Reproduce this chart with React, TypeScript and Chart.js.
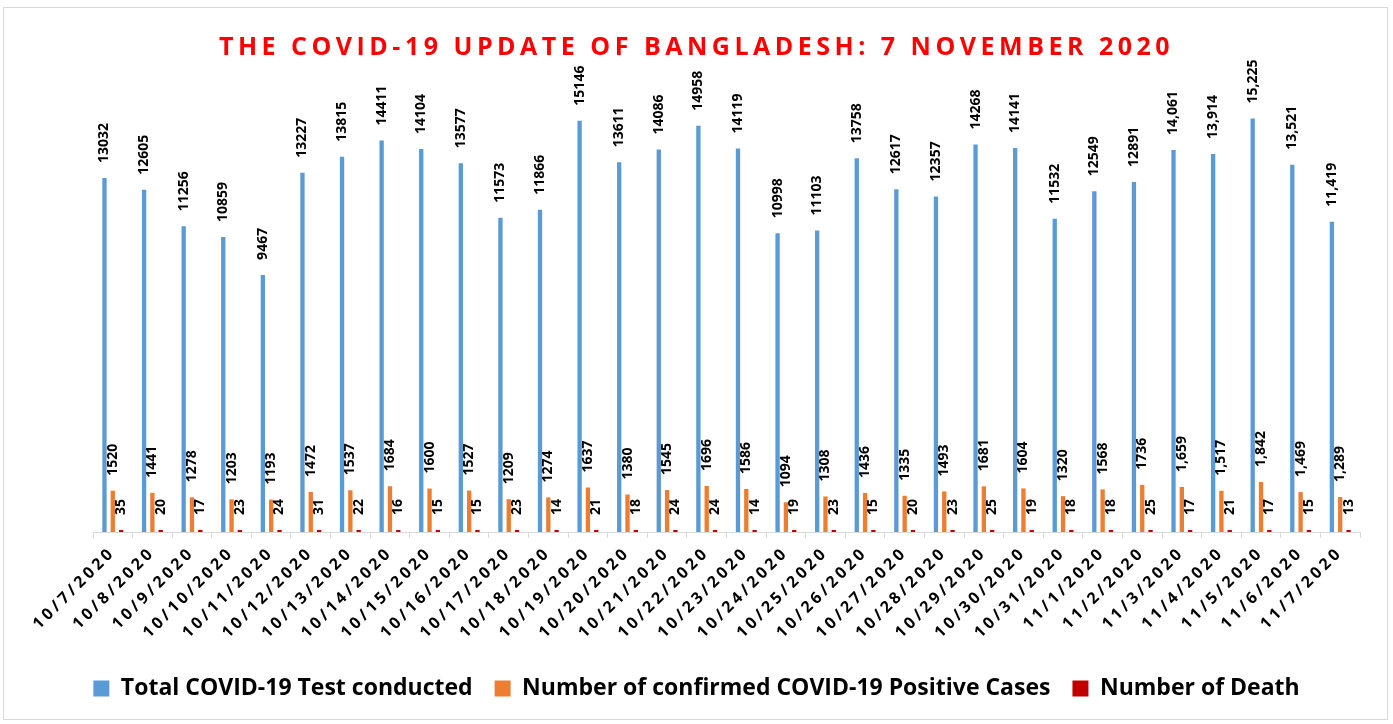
import React, { useEffect, useRef } from "react";
import { Chart, registerables } from "chart.js";

Chart.register(...registerables);

const titleText = "THE COVID-19 UPDATE OF BANGLADESH: 7 NOVEMBER 2020";

const dates = [
  "10/7/2020", "10/8/2020", "10/9/2020", "10/10/2020", "10/11/2020", "10/12/2020",
  "10/13/2020", "10/14/2020", "10/15/2020", "10/16/2020", "10/17/2020", "10/18/2020",
  "10/19/2020", "10/20/2020", "10/21/2020", "10/22/2020", "10/23/2020", "10/24/2020",
  "10/25/2020", "10/26/2020", "10/27/2020", "10/28/2020", "10/29/2020", "10/30/2020",
  "10/31/2020", "11/1/2020", "11/2/2020", "11/3/2020", "11/4/2020", "11/5/2020",
  "11/6/2020", "11/7/2020",
];

const tests = [
  13032, 12605, 11256, 10859, 9467, 13227, 13815, 14411, 14104, 13577, 11573, 11866,
  15146, 13611, 14086, 14958, 14119, 10998, 11103, 13758, 12617, 12357, 14268, 14141,
  11532, 12549, 12891, 14061, 13914, 15225, 13521, 11419,
];

const positives = [
  1520, 1441, 1278, 1203, 1193, 1472, 1537, 1684, 1600, 1527, 1209, 1274,
  1637, 1380, 1545, 1696, 1586, 1094, 1308, 1436, 1335, 1493, 1681, 1604,
  1320, 1568, 1736, 1659, 1517, 1842, 1469, 1289,
];

const deaths = [
  35, 20, 17, 23, 24, 31, 22, 16, 15, 15, 23, 14,
  21, 18, 24, 24, 14, 19, 23, 15, 20, 23, 25, 19,
  18, 18, 25, 17, 21, 17, 15, 13,
];

// from this category on, the source labels use thousands separators
const commaFromIndex = 27;

const seriesNames = [
  "Total COVID-19 Test conducted",
  "Number of confirmed COVID-19 Positive Cases",
  "Number of Death",
];
const seriesColors = ["#5B9BD5", "#ED7D31", "#C00000"];

const FONT = "'Open Sans', 'DejaVu Sans', sans-serif";

const framePlugin = {
  id: "frame",
  beforeDraw(chart: any) {
    const ctx = chart.ctx;
    ctx.save();
    ctx.fillStyle = "#ffffff";
    ctx.fillRect(0, 0, chart.width, chart.height);
    ctx.strokeStyle = "#d9d9d9";
    ctx.lineWidth = 1;
    ctx.strokeRect(3.5, 7.5, 1384, 712);
    ctx.restore();

    // letter spacing for the title and the category labels
    const tb = chart.titleBlock;
    if (tb && !tb.__spaced) {
      const orig = tb.draw;
      tb.draw = function (...args: any[]) {
        const c = chart.ctx;
        const prev = c.letterSpacing;
        c.letterSpacing = "4.5px";
        orig.apply(this, args);
        c.letterSpacing = prev;
      };
      tb.__spaced = true;
    }
    const xs = chart.scales && chart.scales.x;
    if (xs && !xs.__spaced) {
      const origL = xs.drawLabels;
      xs.drawLabels = function (...args: any[]) {
        const c = chart.ctx;
        const prev = c.letterSpacing;
        c.letterSpacing = "3.5px";
        origL.apply(this, args);
        c.letterSpacing = prev;
      };
      xs.__spaced = true;
    }
  },
};

const valueLabelPlugin = {
  id: "valueLabels",
  afterDatasetsDraw(chart: any) {
    const ctx = chart.ctx;
    ctx.save();
    ctx.font = `bold 14px ${FONT}`;
    ctx.fillStyle = "#000000";
    ctx.textAlign = "left";
    ctx.textBaseline = "middle";
    chart.data.datasets.forEach((ds: any, di: number) => {
      const meta = chart.getDatasetMeta(di);
      meta.data.forEach((el: any, i: number) => {
        const v = ds.data[i] as number;
        const txt = i >= commaFromIndex && di < 2 ? v.toLocaleString("en-US") : String(v);
        ctx.save();
        ctx.translate(el.x, el.y - 15);
        ctx.rotate(-Math.PI / 2);
        ctx.fillText(txt, 0, 0);
        ctx.restore();
      });
    });
    ctx.restore();
  },
};

export default function App() {
  const canvasRef = useRef<HTMLCanvasElement | null>(null);

  useEffect(() => {
    document.body.style.margin = "0";
    document.body.style.overflow = "hidden";
    const canvas = canvasRef.current;
    if (!canvas) return;
    Chart.defaults.font.family = FONT;

    const chart = new Chart(canvas, {
      type: "bar",
      data: {
        labels: dates,
        datasets: [
          { label: seriesNames[0], data: tests, backgroundColor: seriesColors[0], borderWidth: 0 },
          { label: seriesNames[1], data: positives, backgroundColor: seriesColors[1], borderWidth: 0 },
          { label: seriesNames[2], data: deaths, backgroundColor: seriesColors[2], borderWidth: 0, minBarLength: 2 },
        ],
      },
      options: {
        animation: false,
        responsive: true,
        maintainAspectRatio: false,
        datasets: {
          bar: { barPercentage: 0.52, categoryPercentage: 0.63 },
        },
        layout: { padding: { left: 33, right: 33, top: 0, bottom: 14 } },
        plugins: {
          title: {
            display: true,
            text: titleText,
            color: "#FF0000",
            font: { family: FONT, size: 25, weight: "bold" },
            padding: { top: 33, bottom: 10 },
          },
          legend: {
            position: "bottom",
            labels: {
              boxWidth: 16,
              boxHeight: 16,
              padding: 22,
              color: "#000000",
              font: { family: FONT, size: 23, weight: "bold" },
            },
          },
          tooltip: { enabled: false },
        },
        scales: {
          x: {
            grid: {
              display: true,
              drawOnChartArea: false,
              drawTicks: true,
              tickLength: 6,
              color: "#d9d9d9",
              offset: true,
            },
            border: { color: "#d9d9d9" },
            ticks: {
              autoSkip: false,
              maxRotation: 45,
              minRotation: 45,
              color: "#000000",
              padding: 5,
              font: { family: FONT, size: 16, weight: "bold" },
            },
            afterFit: (s: any) => {
              s.height = 123;
            },
          },
          y: {
            display: true,
            min: 0,
            max: 16900,
            grid: { display: false },
            border: { display: false },
            ticks: { display: false },
            afterFit: (s: any) => {
              s.width = 60;
            },
          },
        },
      },
      plugins: [framePlugin, valueLabelPlugin],
    } as any);

    return () => {
      chart.destroy();
    };
  }, []);

  return (
    <div style={{ position: "relative", width: "1393px", height: "724px" }}>
      <canvas ref={canvasRef} />
    </div>
  );
}
